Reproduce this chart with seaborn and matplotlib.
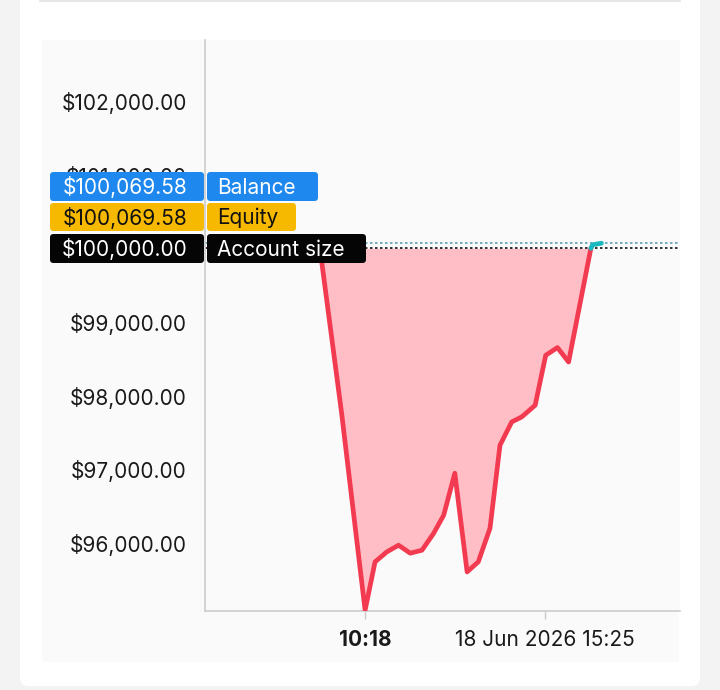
import matplotlib
matplotlib.use("Agg")
import matplotlib.pyplot as plt
from matplotlib.patches import FancyBboxPatch, Rectangle
import seaborn as sns
import pandas as pd

# ---- data (time in minutes since midnight, equity in $) ----
minutes = [541, 578, 618, 635, 655, 675, 695, 715, 735, 752, 771, 792, 811,
           831, 848, 868, 885, 908, 926, 946, 965, 1003]
equity = [100000, 97761, 95088, 95744, 95879, 95970, 95862, 95902, 96133,
          96377, 96947, 95608, 95744, 96201, 97327, 97643, 97711, 97870,
          98548, 98653, 98457, 100000]
above_minutes = [1003, 1006, 1021]
above_equity = [100000, 100048, 100069.58]

account_size = 100000.00
balance = 100069.58
equity_now = 100069.58

y_ticks = [96000, 97000, 98000, 99000, 100000, 101000, 102000]
y_tick_labels = ["$96,000.00", "$97,000.00", "$98,000.00", "$99,000.00",
                 "", "$101,000.00", "$102,000.00"]
x_tick_pos = [618, 925]
x_tick_labels = ["10:18", "18 Jun 2026 15:25"]

sns.set_theme(style="white")
plt.rcParams["font.family"] = ["Inter", "DejaVu Sans"]

fig = plt.figure(figsize=(7.2, 6.9), dpi=100)
fig.patch.set_facecolor("#f3f3f3")
W, H = 720, 690


def fx(px):
    return px / W


def fy(py):
    return 1 - py / H


# white card
card = FancyBboxPatch((fx(20), fy(686)), fx(700) - fx(20), fy(-20) - fy(686),
                      boxstyle="round,pad=0,rounding_size=0.012",
                      transform=fig.transFigure, facecolor="white",
                      edgecolor="none", zorder=-3)
fig.patches.append(card)
# light panel
panel = Rectangle((fx(42), fy(662)), fx(679) - fx(42), fy(40) - fy(662),
                  transform=fig.transFigure, facecolor="#fafafa",
                  edgecolor="none", zorder=-2)
fig.patches.append(panel)
# top separator line
fig.add_artist(plt.Line2D([fx(40), fx(680)], [fy(1), fy(1)],
                          transform=fig.transFigure, color="#e6e6e6", lw=1.5,
                          zorder=-1))

ax = fig.add_axes([fx(205), fy(611), fx(680) - fx(205), fy(40) - fy(611)])
ax.set_facecolor("#fafafa")

df = pd.DataFrame({"t": minutes, "v": equity})
df2 = pd.DataFrame({"t": above_minutes, "v": above_equity})

ax.fill_between(minutes, equity, account_size, color="#ffbec5", lw=0, zorder=1)
sns.lineplot(data=df, x="t", y="v", ax=ax, color="#f23a50", lw=3.4,
             zorder=3)
sns.lineplot(data=df2, x="t", y="v", ax=ax, color="#1ab8c0", lw=3.4,
             zorder=3)

ax.axhline(balance, color="#5b9fb3", lw=1.2, ls=(0, (1.5, 1.5)), zorder=2)
ax.axhline(account_size, color="#111111", lw=1.2, ls=(0, (1.5, 1.5)), zorder=2)

ax.set_xlim(345, 1155)
ax.set_ylim(95077, 102828)

ax.set_yticks(y_ticks)
ax.set_yticklabels(y_tick_labels, fontsize=15, color="#1a1a1a")
ax.tick_params(axis="y", length=0, pad=13)
ax.set_xticks(x_tick_pos)
ax.set_xticklabels(x_tick_labels, fontsize=15, color="#1a1a1a")
ax.get_xticklabels()[0].set_fontweight("bold")
ax.tick_params(axis="x", length=6, color="#cccccc", width=1, pad=8,
               direction="out", bottom=True)
ax.set_xlabel("")
ax.set_ylabel("")

for s in ["top", "right"]:
    ax.spines[s].set_visible(False)
for s in ["left", "bottom"]:
    ax.spines[s].set_color("#cccccc")
    ax.spines[s].set_linewidth(1.2)

# value labels (left boxes) and name labels (right boxes)
labels = [
    (f"${balance:,.2f}", "Balance", "#1e88ef", "white", 172, 201, 318),
    (f"${equity_now:,.2f}", "Equity", "#f7b900", "#111111", 203, 231, 296),
    (f"${account_size:,.2f}", "Account size", "#050505", "white", 234, 263, 366),
]
for val, name, bg, fg, top, bot, right in labels:
    for x0, x1, txt in [(50, 204, val), (207, right, name)]:
        box = FancyBboxPatch((fx(x0), fy(bot)), fx(x1) - fx(x0),
                             fy(top) - fy(bot),
                             boxstyle="round,pad=0,rounding_size=0.005",
                             transform=fig.transFigure, facecolor=bg,
                             edgecolor="none", zorder=5)
        fig.add_artist(box)
        xt = (x0 + 10) if x0 > 200 else (x1 - 17)
        ha = "left" if x0 > 200 else "right"
        fig.text(fx(xt), fy((top + bot) / 2 + 1), txt, ha=ha, va="center",
                 fontsize=15, color=fg, zorder=6)

fig.savefig("out.png", dpi=100, facecolor=fig.get_facecolor())
